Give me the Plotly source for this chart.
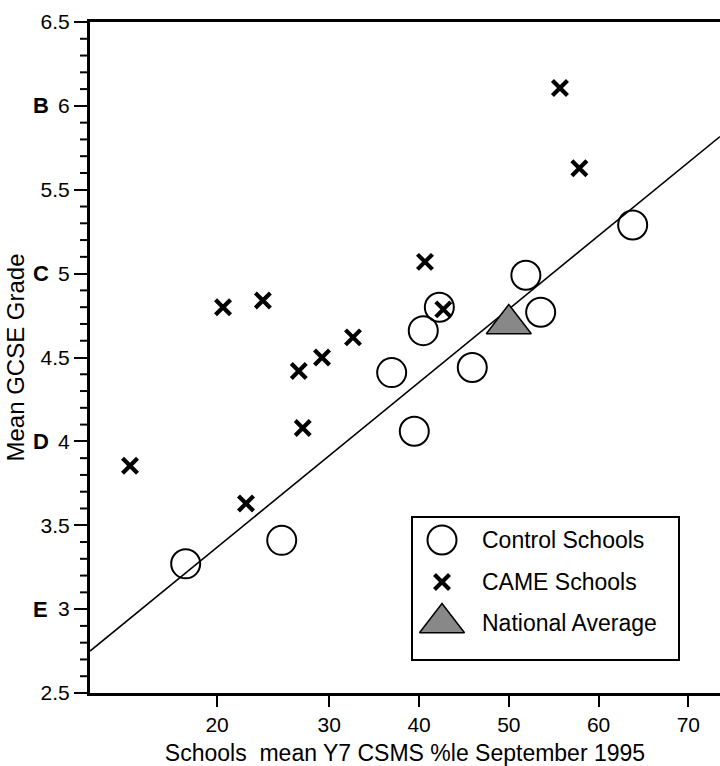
import plotly.graph_objects as go

# ---- data ----
control_x = [14.0, 24.7, 36.95, 39.47, 40.47, 42.26, 45.93, 51.9, 53.55, 63.8]
control_y = [3.27, 3.41, 4.41, 4.06, 4.66, 4.80, 4.44, 4.99, 4.77, 5.29]

came_x = [7.8, 18.16, 20.72, 22.6, 26.6, 27.04, 29.19, 32.64, 40.66, 42.7, 55.7, 57.86]
came_y = [3.855, 4.80, 3.63, 4.84, 4.42, 4.08, 4.50, 4.62, 5.07, 4.787, 6.107, 5.628]

national_x = [50.0]
national_y = [4.70]

fit_intercept = 2.604
fit_slope = 0.0437

x_tick_labels = ["20", "30", "40", "50", "60", "70"]
x_tick_values = [17.5, 30, 40, 50, 60, 70]

y_tick_values = [2.5, 3, 3.5, 4, 4.5, 5, 5.5, 6, 6.5]
y_tick_labels = ["2.5", "3", "3.5", "4", "4.5", "5", "5.5", "6", "6.5"]

grade_letters = ["B", "C", "D", "E"]
grade_values = [6, 5, 4, 3]

legend_names = ["Control Schools", "CAME Schools", "National Average"]

FONT = "Liberation Sans, Arial, Helvetica, sans-serif"
X_RANGE = [3.34, 73.53]
Y_RANGE = [2.5, 6.5]
PLOT_W = 630  # plot-area width in px

minor_y = [round(2.5 + 0.1 * i, 1) for i in range(41)]
minor_y = [v for v in minor_y if v not in y_tick_values]

circle_style = dict(symbol="circle-open", size=29, color="black", line=dict(width=2, color="black"))
cross_style = dict(symbol="x-thin", size=15, color="black", line=dict(width=4.2, color="black"))
tri_style = dict(symbol="triangle-up", size=39, color="#888888", line=dict(width=1.5, color="black"))

fig = go.Figure()

# regression line
line_x = X_RANGE
line_y = [fit_intercept + fit_slope * v for v in line_x]
fig.add_trace(go.Scatter(x=line_x, y=line_y, mode="lines",
                         line=dict(color="black", width=1.6), showlegend=False, hoverinfo="skip"))

fig.add_trace(go.Scatter(x=control_x, y=control_y, mode="markers", marker=circle_style,
                         name=legend_names[0], showlegend=False))
fig.add_trace(go.Scatter(x=national_x, y=national_y, mode="markers", marker=tri_style,
                         name=legend_names[2], showlegend=False))
fig.add_trace(go.Scatter(x=came_x, y=came_y, mode="markers", marker=cross_style,
                         name=legend_names[1], showlegend=False))

# manual legend on auxiliary axes (box in px-like units)
leg_sym_x = [29, 29, 29]
leg_rows = [22, 64, 105]
fig.add_trace(go.Scatter(x=[leg_sym_x[0]], y=[leg_rows[0]], xaxis="x2", yaxis="y2",
                         mode="markers", marker=circle_style, showlegend=False, hoverinfo="skip"))
fig.add_trace(go.Scatter(x=[leg_sym_x[1]], y=[leg_rows[1]], xaxis="x2", yaxis="y2",
                         mode="markers", marker=cross_style, showlegend=False, hoverinfo="skip"))
fig.add_trace(go.Scatter(x=[leg_sym_x[2]], y=[leg_rows[2]], xaxis="x2", yaxis="y2",
                         mode="markers", marker=tri_style, showlegend=False, hoverinfo="skip"))

annotations = []
for name, row in zip(legend_names, leg_rows):
    annotations.append(dict(x=67, y=row, xref="x2", yref="y2", text=name, showarrow=False,
                            xanchor="left", yanchor="middle",
                            font=dict(family=FONT, size=23, color="black")))
for letter, val in zip(grade_letters, grade_values):
    annotations.append(dict(x=-0.0785, y=val, xref="paper", yref="y", text="<b>%s</b>" % letter,
                            showarrow=False, xanchor="center", yanchor="middle",
                            font=dict(family=FONT, size=22, color="black")))

# minor y ticks (every 0.1) drawn as short tick segments on the axis
shapes = []
for v in minor_y:
    shapes.append(dict(type="line", xref="paper", yref="y", x0=-10.0 / PLOT_W, x1=-1.0 / PLOT_W,
                       y0=v, y1=v, line=dict(color="black", width=2), layer="above"))

fig.update_layout(
    width=720, height=766,
    margin=dict(l=90, r=0, t=22, b=73),
    paper_bgcolor="white", plot_bgcolor="rgba(0,0,0,0)",
    font=dict(family=FONT, color="black"),
    showlegend=False,
    annotations=annotations,
    shapes=shapes,
    xaxis=dict(
        range=X_RANGE, domain=[0, 1],
        showline=True, linecolor="black", linewidth=2.5, mirror=True,
        showgrid=False, zeroline=False,
        tickmode="array", tickvals=x_tick_values, ticktext=x_tick_labels,
        ticks="outside", ticklen=11, tickwidth=1.5, tickcolor="black",
        tickfont=dict(family=FONT, size=21, color="black"),
        title=dict(text="Schools  mean Y7 CSMS %le September 1995",
                   font=dict(family=FONT, size=23, color="black"), standoff=13),
    ),
    yaxis=dict(
        range=Y_RANGE, domain=[0, 1],
        showline=True, linecolor="black", linewidth=3,
        showgrid=False, zeroline=False,
        tickmode="array", tickvals=y_tick_values, ticktext=y_tick_labels,
        ticks="outside", ticklen=13, tickwidth=2, tickcolor="black",
        tickfont=dict(family=FONT, size=21, color="black"),
        title=dict(text="Mean GCSE Grade", font=dict(family=FONT, size=24, color="black"), standoff=10),
    ),
    xaxis2=dict(domain=[0.5127, 0.9333], anchor="y2", range=[0, 265],
                showline=True, mirror=True, linecolor="black", linewidth=1.5,
                showgrid=False, zeroline=False, showticklabels=False, ticks=""),
    yaxis2=dict(domain=[0.0507, 0.2608], anchor="x2", range=[141, 0],
                showline=True, mirror=True, linecolor="black", linewidth=1.5,
                showgrid=False, zeroline=False, showticklabels=False, ticks=""),
)

fig.write_html("out.html")
